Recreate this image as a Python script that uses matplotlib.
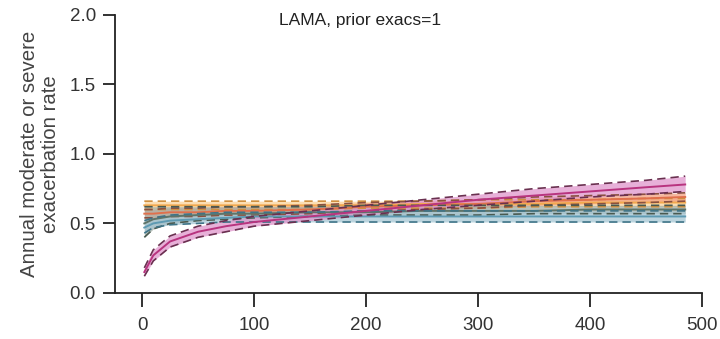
import matplotlib
matplotlib.use("Agg")
import matplotlib.pyplot as plt
import numpy as np

plt.rcParams['font.family'] = ['Liberation Sans', 'DejaVu Sans']

days = [2, 10, 25, 50, 75, 100, 150, 200, 250, 300, 350, 400, 450, 485]

yellow_mid = [0.63, 0.63, 0.63, 0.63, 0.63, 0.63, 0.63, 0.63, 0.64, 0.64, 0.64, 0.65, 0.65, 0.65]
yellow_lo = [0.60, 0.60, 0.60, 0.60, 0.60, 0.60, 0.60, 0.61, 0.61, 0.61, 0.62, 0.62, 0.62, 0.62]
yellow_hi = [0.66, 0.66, 0.66, 0.66, 0.66, 0.66, 0.66, 0.66, 0.66, 0.67, 0.67, 0.67, 0.68, 0.68]

orange_mid = [0.57, 0.57, 0.58, 0.58, 0.59, 0.59, 0.60, 0.62, 0.63, 0.64, 0.66, 0.67, 0.68, 0.69]
orange_lo = [0.54, 0.54, 0.55, 0.55, 0.56, 0.56, 0.57, 0.59, 0.60, 0.61, 0.63, 0.64, 0.65, 0.66]
orange_hi = [0.60, 0.60, 0.61, 0.61, 0.62, 0.62, 0.63, 0.65, 0.66, 0.67, 0.69, 0.70, 0.71, 0.72]

grey_mid = [0.50, 0.53, 0.55, 0.56, 0.57, 0.57, 0.58, 0.58, 0.59, 0.59, 0.59, 0.60, 0.60, 0.60]
grey_lo = [0.40, 0.46, 0.50, 0.52, 0.53, 0.54, 0.55, 0.56, 0.56, 0.56, 0.57, 0.57, 0.57, 0.57]
grey_hi = [0.62, 0.62, 0.62, 0.62, 0.62, 0.62, 0.62, 0.63, 0.63, 0.63, 0.63, 0.63, 0.63, 0.63]

blue_mid = [0.47, 0.50, 0.52, 0.53, 0.54, 0.55, 0.55, 0.55, 0.55, 0.55, 0.55, 0.55, 0.55, 0.55]
blue_lo = [0.43, 0.47, 0.49, 0.50, 0.51, 0.51, 0.51, 0.51, 0.51, 0.51, 0.51, 0.51, 0.51, 0.51]
blue_hi = [0.52, 0.54, 0.56, 0.57, 0.58, 0.58, 0.58, 0.59, 0.59, 0.59, 0.59, 0.59, 0.59, 0.59]

pink_mid = [0.15, 0.27, 0.37, 0.44, 0.48, 0.51, 0.55, 0.59, 0.63, 0.67, 0.70, 0.73, 0.76, 0.78]
pink_lo = [0.12, 0.23, 0.33, 0.40, 0.44, 0.48, 0.52, 0.56, 0.60, 0.63, 0.66, 0.69, 0.71, 0.73]
pink_hi = [0.18, 0.31, 0.41, 0.48, 0.52, 0.55, 0.59, 0.63, 0.67, 0.71, 0.75, 0.78, 0.81, 0.84]

title = "LAMA, prior exacs=1"
ylabel = "Annual moderate or severe\nexacerbation rate"
xticks = [0, 100, 200, 300, 400, 500]
yticks = [0.0, 0.5, 1.0, 1.5, 2.0]

series = [
    (yellow_lo, yellow_mid, yellow_hi, '#fbd39a', '#f2a94e', '#d09040'),
    (orange_lo, orange_mid, orange_hi, '#f2a080', '#e0704c', '#8a5040'),
    (grey_lo, grey_mid, grey_hi, '#a2aea6', '#5f7468', '#4a5a50'),
    (blue_lo, blue_mid, blue_hi, '#a5c6d3', '#5e9ab2', '#3f7488'),
    (pink_lo, pink_mid, pink_hi, '#e096cc', '#b8347f', '#6a3050'),
]

fig = plt.figure(figsize=(7.2, 3.39), dpi=100)
ax = fig.add_axes([0.16, 0.136, 0.815, 0.82])

for lo, mid, hi, fillc, linec, dashc in series:
    ax.fill_between(days, lo, hi, color=fillc, alpha=0.75, linewidth=0)
    ax.plot(days, mid, color=linec, lw=1.4)
    ax.plot(days, lo, color=dashc, lw=1.2, ls=(0, (5, 3)))
    ax.plot(days, hi, color=dashc, lw=1.2, ls=(0, (5, 3)))

ax.set_xlim(-24, 500)
ax.set_ylim(0, 2.0)
ax.set_xticks(xticks)
ax.set_yticks(yticks)
ax.set_yticklabels([f"{v:.1f}" for v in yticks])
ax.spines['top'].set_visible(False)
ax.spines['right'].set_visible(False)
for s in ['left', 'bottom']:
    ax.spines[s].set_linewidth(1.3)
    ax.spines[s].set_color('#222222')
ax.tick_params(axis='y', length=9, width=1.3, color='#222222', labelsize=13.5, labelcolor='#333333', pad=5)
ax.tick_params(axis='x', length=10, width=1.3, color='#222222', labelsize=13.5, labelcolor='#333333', pad=7)
ax.set_ylabel(ylabel, fontsize=14.7, color='#444444', labelpad=7, linespacing=1.1)
ax.text(195, 1.96, title, ha='center', va='center', fontsize=12.5, color='#222222')

fig.savefig("out.png", dpi=100)
